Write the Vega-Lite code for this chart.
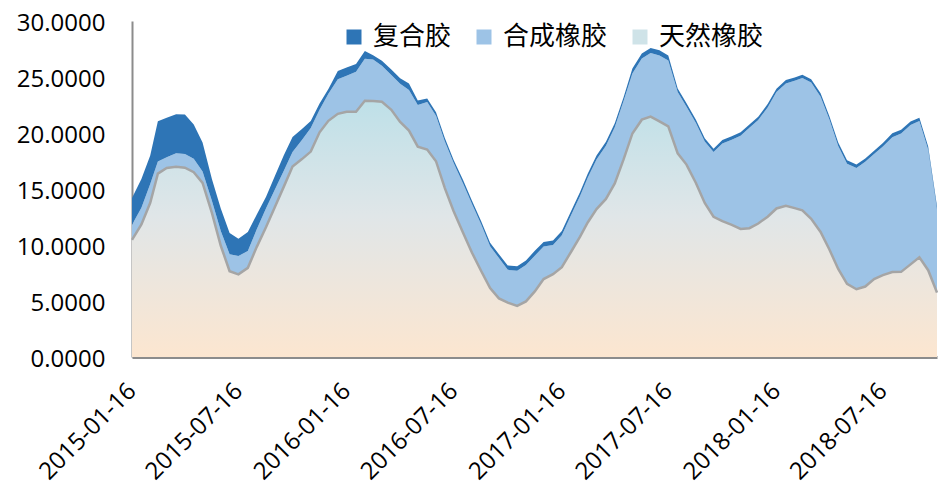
{
  "$schema": "https://vega.github.io/schema/vega-lite/v6.json",
  "width": 805,
  "height": 336,
  "autosize": {"type": "none"},
  "padding": {"left": 132, "top": 21, "right": 1, "bottom": 134},
  "background": "white",
  "config": {
    "view": {"stroke": null},
    "axis": {"grid": false, "ticks": false, "labelFont": "Open Sans", "labelFontSize": 24, "labelColor": "#000000", "domainColor": "#8C8C8C"}
  },
  "datasets": {
    "rubber": [
      {"d": "2015-01-16", "天然橡胶": 10.45, "合成橡胶": 1.35, "复合胶": 2.40},
      {"d": "2015-02-01", "天然橡胶": 11.84, "合成橡胶": 1.49, "复合胶": 2.57},
      {"d": "2015-02-16", "天然橡胶": 13.77, "合成橡胶": 1.68, "复合胶": 2.55},
      {"d": "2015-03-01", "天然橡胶": 16.37, "合成橡胶": 1.09, "复合胶": 3.59},
      {"d": "2015-03-16", "天然橡胶": 16.88, "合成橡胶": 0.96, "复合胶": 3.53},
      {"d": "2015-04-01", "天然橡胶": 16.99, "合成橡胶": 1.21, "复合胶": 3.48},
      {"d": "2015-04-16", "天然橡胶": 16.90, "合成橡胶": 1.22, "复合胶": 3.53},
      {"d": "2015-05-01", "天然橡胶": 16.50, "合成橡胶": 1.20, "复合胶": 3.05},
      {"d": "2015-05-16", "天然橡胶": 15.54, "合成橡胶": 1.02, "复合胶": 2.59},
      {"d": "2015-06-01", "天然橡胶": 12.85, "合成橡胶": 1.08, "复合胶": 1.94},
      {"d": "2015-06-16", "天然橡胶": 9.93, "合成橡胶": 1.31, "复合胶": 2.01},
      {"d": "2015-07-01", "天然橡胶": 7.66, "合成橡胶": 1.52, "复合胶": 1.90},
      {"d": "2015-07-16", "天然橡胶": 7.38, "合成橡胶": 1.64, "复合胶": 1.54},
      {"d": "2015-08-01", "天然橡胶": 7.96, "合成橡胶": 1.50, "复合胶": 1.71},
      {"d": "2015-08-16", "天然橡胶": 9.81, "合成橡胶": 1.57, "复合胶": 1.32},
      {"d": "2015-09-01", "天然橡胶": 11.60, "合成橡胶": 1.68, "复合胶": 1.03},
      {"d": "2015-09-16", "天然橡胶": 13.40, "合成橡胶": 1.55, "复合胶": 1.20},
      {"d": "2015-10-01", "天然橡胶": 15.19, "合成橡胶": 1.42, "复合胶": 1.38},
      {"d": "2015-10-16", "天然橡胶": 17.00, "合成橡胶": 1.30, "复合胶": 1.34},
      {"d": "2015-11-01", "天然橡胶": 17.67, "合成橡胶": 1.70, "复合胶": 0.98},
      {"d": "2015-11-16", "天然橡胶": 18.34, "合成橡胶": 2.11, "复合胶": 0.62},
      {"d": "2015-12-01", "天然橡胶": 20.06, "合成橡胶": 2.02, "复合胶": 0.55},
      {"d": "2015-12-16", "天然橡胶": 21.09, "合成橡胶": 2.42, "复合胶": 0.42},
      {"d": "2016-01-01", "天然橡胶": 21.71, "合成橡胶": 3.10, "复合胶": 0.72},
      {"d": "2016-01-16", "天然橡胶": 21.90, "合成橡胶": 3.21, "复合胶": 0.74},
      {"d": "2016-02-01", "天然橡胶": 21.90, "合成橡胶": 3.56, "复合胶": 0.70},
      {"d": "2016-02-16", "天然橡胶": 22.88, "合成橡胶": 3.76, "复合胶": 0.69},
      {"d": "2016-03-01", "天然橡胶": 22.85, "合成橡胶": 3.72, "复合胶": 0.38},
      {"d": "2016-03-16", "天然橡胶": 22.79, "合成橡胶": 3.21, "复合胶": 0.45},
      {"d": "2016-04-01", "天然橡胶": 22.07, "合成橡胶": 3.10, "复合胶": 0.50},
      {"d": "2016-04-16", "天然橡胶": 20.98, "合成橡胶": 3.41, "复合胶": 0.49},
      {"d": "2016-05-01", "天然橡胶": 20.22, "合成橡胶": 3.63, "复合胶": 0.58},
      {"d": "2016-05-16", "天然橡胶": 18.78, "合成橡胶": 3.72, "复合胶": 0.40},
      {"d": "2016-06-01", "天然橡胶": 18.53, "合成橡胶": 4.24, "复合胶": 0.31},
      {"d": "2016-06-16", "天然橡胶": 17.48, "合成橡胶": 4.07, "复合胶": 0.30},
      {"d": "2016-07-01", "天然橡胶": 15.08, "合成橡胶": 4.17, "复合胶": 0.30},
      {"d": "2016-07-16", "天然橡胶": 13.02, "合成橡胶": 4.30, "复合胶": 0.28},
      {"d": "2016-08-01", "天然橡胶": 11.09, "合成橡胶": 4.41, "复合胶": 0.30},
      {"d": "2016-08-16", "天然橡胶": 9.33, "合成橡胶": 4.35, "复合胶": 0.30},
      {"d": "2016-09-01", "天然橡胶": 7.66, "合成橡胶": 4.14, "复合胶": 0.30},
      {"d": "2016-09-16", "天然橡胶": 6.15, "合成橡胶": 3.74, "复合胶": 0.31},
      {"d": "2016-10-01", "天然橡胶": 5.23, "合成橡胶": 3.60, "复合胶": 0.35},
      {"d": "2016-10-16", "天然橡胶": 4.85, "合成橡胶": 2.93, "复合胶": 0.40},
      {"d": "2016-11-01", "天然橡胶": 4.56, "合成橡胶": 3.14, "复合胶": 0.40},
      {"d": "2016-11-16", "天然橡胶": 4.96, "合成橡胶": 3.25, "复合胶": 0.41},
      {"d": "2016-12-01", "天然橡胶": 5.86, "合成橡胶": 3.18, "复合胶": 0.44},
      {"d": "2016-12-16", "天然橡胶": 6.96, "合成橡胶": 2.90, "复合胶": 0.41},
      {"d": "2017-01-01", "天然橡胶": 7.40, "合成橡胶": 2.60, "复合胶": 0.40},
      {"d": "2017-01-16", "天然橡胶": 8.02, "合成橡胶": 2.84, "复合胶": 0.38},
      {"d": "2017-02-01", "天然橡胶": 9.42, "合成橡胶": 3.29, "复合胶": 0.35},
      {"d": "2017-02-16", "天然橡胶": 10.75, "合成橡胶": 3.63, "复合胶": 0.35},
      {"d": "2017-03-01", "天然橡胶": 12.01, "合成橡胶": 4.00, "复合胶": 0.35},
      {"d": "2017-03-16", "天然橡胶": 13.21, "合成橡胶": 4.42, "复合胶": 0.35},
      {"d": "2017-04-01", "天然橡胶": 14.11, "合成橡胶": 4.76, "复合胶": 0.35},
      {"d": "2017-04-16", "天然橡胶": 15.50, "合成橡胶": 5.02, "复合胶": 0.35},
      {"d": "2017-05-01", "天然橡胶": 17.65, "合成橡胶": 5.20, "复合胶": 0.35},
      {"d": "2017-05-16", "天然橡胶": 19.96, "合成橡胶": 5.36, "复合胶": 0.45},
      {"d": "2017-06-01", "天然橡胶": 21.19, "合成橡胶": 5.46, "复合胶": 0.45},
      {"d": "2017-06-16", "天然橡胶": 21.46, "合成橡胶": 5.69, "复合胶": 0.45},
      {"d": "2017-07-01", "天然橡胶": 21.04, "合成橡胶": 5.89, "复合胶": 0.45},
      {"d": "2017-07-16", "天然橡胶": 20.59, "合成橡胶": 5.89, "复合胶": 0.45},
      {"d": "2017-08-01", "天然橡胶": 18.18, "合成橡胶": 5.49, "复合胶": 0.30},
      {"d": "2017-08-16", "天然橡胶": 17.18, "合成橡胶": 5.17, "复合胶": 0.30},
      {"d": "2017-09-01", "天然橡胶": 15.54, "合成橡胶": 5.35, "复合胶": 0.30},
      {"d": "2017-09-16", "天然橡胶": 13.75, "合成橡胶": 5.48, "复合胶": 0.30},
      {"d": "2017-10-01", "天然橡胶": 12.52, "合成橡胶": 5.78, "复合胶": 0.30},
      {"d": "2017-10-16", "天然橡胶": 12.13, "合成橡胶": 6.94, "复合胶": 0.30},
      {"d": "2017-11-01", "天然橡胶": 11.79, "合成橡胶": 7.61, "复合胶": 0.30},
      {"d": "2017-11-16", "天然橡胶": 11.44, "合成橡胶": 8.32, "复合胶": 0.30},
      {"d": "2017-12-01", "天然橡胶": 11.50, "合成橡胶": 8.96, "复合胶": 0.30},
      {"d": "2017-12-16", "天然橡胶": 11.92, "合成橡胶": 9.24, "复合胶": 0.30},
      {"d": "2018-01-01", "天然橡胶": 12.53, "合成橡胶": 9.75, "复合胶": 0.30},
      {"d": "2018-01-16", "天然橡胶": 13.26, "合成橡胶": 10.40, "复合胶": 0.30},
      {"d": "2018-02-01", "天然橡胶": 13.49, "合成橡胶": 10.94, "复合胶": 0.30},
      {"d": "2018-02-16", "天然橡胶": 13.29, "合成橡胶": 11.37, "复合胶": 0.30},
      {"d": "2018-03-01", "天然橡胶": 13.09, "合成橡胶": 11.81, "复合胶": 0.30},
      {"d": "2018-03-16", "天然橡胶": 12.34, "合成橡胶": 12.16, "复合胶": 0.30},
      {"d": "2018-04-01", "天然橡胶": 11.17, "合成橡胶": 12.07, "复合胶": 0.30},
      {"d": "2018-04-16", "天然橡胶": 9.60, "合成橡胶": 11.60, "复合胶": 0.30},
      {"d": "2018-05-01", "天然橡胶": 7.86, "合成橡胶": 10.99, "复合胶": 0.30},
      {"d": "2018-05-16", "天然橡胶": 6.53, "合成橡胶": 10.73, "复合胶": 0.30},
      {"d": "2018-06-01", "天然橡胶": 6.05, "合成橡胶": 10.83, "复合胶": 0.30},
      {"d": "2018-06-16", "天然橡胶": 6.29, "合成橡胶": 11.14, "复合胶": 0.30},
      {"d": "2018-07-01", "天然橡胶": 6.96, "合成橡胶": 11.16, "复合胶": 0.30},
      {"d": "2018-07-16", "天然橡胶": 7.31, "合成橡胶": 11.49, "复合胶": 0.30},
      {"d": "2018-08-01", "天然橡胶": 7.59, "合成橡胶": 12.04, "复合胶": 0.35},
      {"d": "2018-08-16", "天然橡胶": 7.60, "合成橡胶": 12.35, "复合胶": 0.35},
      {"d": "2018-09-01", "天然橡胶": 8.27, "合成橡胶": 12.45, "复合胶": 0.30},
      {"d": "2018-09-16", "天然橡胶": 8.90, "合成橡胶": 12.17, "复合胶": 0.30},
      {"d": "2018-10-01", "天然橡胶": 7.75, "合成橡胶": 10.75, "复合胶": 0.30},
      {"d": "2018-10-16", "天然橡胶": 5.75, "合成橡胶": 7.40, "复合胶": 0.30}
    ],
    "rank": [
      {"s": "天然橡胶", "k": 1},
      {"s": "合成橡胶", "k": 2},
      {"s": "复合胶", "k": 3}
    ]
  },
  "data": {"name": "rubber"},
  "transform": [
    {"fold": ["天然橡胶", "合成橡胶", "复合胶"], "as": ["s", "v"]},
    {"lookup": "s", "from": {"data": {"name": "rank"}, "key": "s", "fields": ["k"]}}
  ],
  "encoding": {
    "x": {
      "field": "d",
      "type": "temporal",
      "scale": {
        "type": "utc",
        "nice": false,
        "domain": [{"year": 2015, "month": 1, "date": 16, "utc": true}, {"year": 2018, "month": 10, "date": 16, "utc": true}]
      },
      "axis": {
        "title": null,
        "values": [
          {"year": 2015, "month": 1, "date": 16, "utc": true},
          {"year": 2015, "month": 7, "date": 16, "utc": true},
          {"year": 2016, "month": 1, "date": 16, "utc": true},
          {"year": 2016, "month": 7, "date": 16, "utc": true},
          {"year": 2017, "month": 1, "date": 16, "utc": true},
          {"year": 2017, "month": 7, "date": 16, "utc": true},
          {"year": 2018, "month": 1, "date": 16, "utc": true},
          {"year": 2018, "month": 7, "date": 16, "utc": true}
        ],
        "format": "%Y-%m-%d",
        "labelAngle": -45,
        "labelAlign": "right",
        "labelBaseline": "middle",
        "labelPadding": 30,
        "labelOverlap": false,
        "labelBound": false,
        "labelFlush": false,
        "domainWidth": 3
      }
    }
  },
  "layer": [
    {
      "transform": [
        {"stack": "v", "groupby": ["d"], "sort": [{"field": "k", "order": "ascending"}], "as": ["y0", "y1"]}
      ],
      "mark": {"type": "area", "opacity": 1},
      "encoding": {
        "y": {
          "field": "y1",
          "type": "quantitative",
          "scale": {"domain": [0, 30], "nice": false},
          "axis": {
            "title": null,
            "values": [0, 5, 10, 15, 20, 25, 30],
            "format": ".4f",
            "domainWidth": 2,
            "labelPadding": 27,
            "labelOffset": 2
          }
        },
        "y2": {"field": "y0"},
        "color": {
          "field": "s",
          "type": "nominal",
          "scale": {"domain": ["复合胶", "合成橡胶", "天然橡胶"], "range": ["#2E75B6", "#9DC3E6", "#CFE3E8"]},
          "legend": {
            "orient": "none",
            "legendX": 209,
            "legendY": 3,
            "direction": "horizontal",
            "title": null,
            "symbolType": "square",
            "symbolSize": 225,
            "labelFont": "Noto Sans CJK SC",
            "labelFontSize": 26,
            "labelColor": "#000000",
            "labelOffset": 6,
            "columnPadding": 19,
            "padding": 0,
            "encode": {
              "symbols": {
                "update": {
                  "stroke": {"signal": "datum.value === '天然橡胶' ? '#A5A5A5' : null"},
                  "strokeWidth": {"signal": "datum.value === '天然橡胶' ? 2.5 : 0"}
                }
              }
            }
          }
        }
      }
    },
    {
      "transform": [{"filter": {"field": "s", "equal": "天然橡胶"}}],
      "mark": {
        "type": "area",
        "color": {
          "gradient": "linear", "x1": 0, "y1": 0, "x2": 0, "y2": 1,
          "stops": [
            {"offset": 0, "color": "#BEE0E8"},
            {"offset": 0.45, "color": "#E0E6E8"},
            {"offset": 1, "color": "#FCE6D0"}
          ]
        }
      },
      "encoding": {"y": {"field": "v", "type": "quantitative", "title": null}}
    },
    {
      "transform": [{"filter": {"field": "s", "equal": "天然橡胶"}}],
      "mark": {"type": "line", "color": "#A5A5A5", "strokeWidth": 2.5},
      "encoding": {"y": {"field": "v", "type": "quantitative", "title": null}}
    }
  ]
}
